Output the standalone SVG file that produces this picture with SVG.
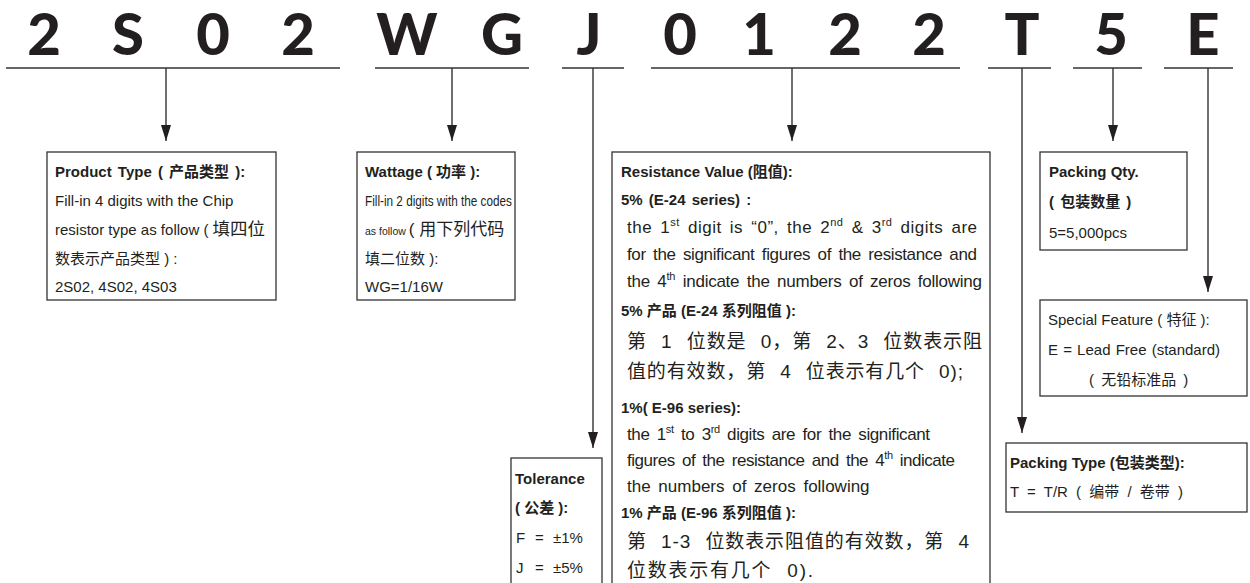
<svg xmlns="http://www.w3.org/2000/svg" width="1250" height="583" viewBox="0 0 1250 583">
<defs>
<marker id="ah" markerUnits="userSpaceOnUse" markerWidth="16" markerHeight="10" refX="16" refY="5" orient="auto" viewBox="0 0 16 10">
<path d="M0,0 L16,5 L0,10 Z" fill="#231f20"/>
</marker>
<style>
.big{font-family:"Lato","Liberation Sans",sans-serif;font-weight:900;font-size:58px;fill:#231f20;text-anchor:middle}
.t{font-family:"Liberation Sans","Noto Sans CJK SC",sans-serif;font-size:15px;fill:#231f20}
.b{font-weight:700}
.cj{font-size:19px;word-spacing:8px}
.en{font-size:17px;word-spacing:3px}
.box{fill:#fff;stroke:#333;stroke-width:1.3}
.ln{stroke:#333;stroke-width:1.6;fill:none}
.ar{stroke:#333;stroke-width:1.4;fill:none;marker-end:url(#ah)}
</style>
</defs>
<rect width="1250" height="583" fill="#fff"/>
<g id="code">
<text class="big" x="44" y="55">2</text>
<text class="big" x="128" y="55">S</text>
<text class="big" x="213" y="55">0</text>
<text class="big" x="298" y="55">2</text>
<text class="big" x="407" y="55">W</text>
<text class="big" x="502" y="55">G</text>
<text class="big" x="589" y="55">J</text>
<text class="big" x="680" y="55">0</text>
<text class="big" x="759" y="55">1</text>
<text class="big" x="845" y="55">2</text>
<text class="big" x="929" y="55">2</text>
<text class="big" x="1022" y="55">T</text>
<text class="big" x="1111" y="55">5</text>
<text class="big" x="1203" y="55">E</text>
</g>
<g id="connectors">
<line class="ln" x1="6" y1="68" x2="340" y2="68"/>
<line class="ln" x1="375" y1="68" x2="529" y2="68"/>
<line class="ln" x1="562" y1="68" x2="624" y2="68"/>
<line class="ln" x1="651" y1="68" x2="960" y2="68"/>
<line class="ln" x1="988" y1="68" x2="1051" y2="68"/>
<line class="ln" x1="1073" y1="68" x2="1142" y2="68"/>
<line class="ln" x1="1164" y1="68" x2="1233" y2="68"/>
<line class="ar" x1="166" y1="68" x2="166" y2="141"/>
<line class="ar" x1="452" y1="68" x2="452" y2="141"/>
<line class="ar" x1="593" y1="68" x2="593" y2="448"/>
<line class="ar" x1="792" y1="68" x2="792" y2="141"/>
<line class="ar" x1="1022" y1="68" x2="1022" y2="433"/>
<line class="ar" x1="1113" y1="68" x2="1113" y2="141"/>
<line class="ar" x1="1208" y1="68" x2="1208" y2="292"/>
</g>
<g id="product-type">
<rect class="box" x="47" y="152" width="229" height="148"/>
<text class="t b" x="55" y="177" font-size="17" word-spacing="2">Product Type ( 产品类型 ):</text>
<text class="t" x="55" y="206" font-size="17">Fill-in 4 digits with the Chip</text>
<text class="t" x="55" y="235" font-size="15.5">resistor type as follow ( <tspan font-size="17.5">填四位</tspan></text>
<text class="t" x="55" y="264" font-size="18.5">数表示产品类型 ) :</text>
<text class="t" x="55" y="292" font-size="16">2S02, 4S02, 4S03</text>
</g>
<g id="wattage">
<rect class="box" x="357" y="152" width="158" height="148"/>
<text class="t b" x="365" y="177">Wattage ( 功率 ):</text>
<text class="t" x="365" y="206" font-size="12" textLength="147" lengthAdjust="spacingAndGlyphs">Fill-in 2 digits with the codes</text>
<text class="t" x="365" y="235"><tspan font-size="10.5">as follow </tspan><tspan font-size="17">( 用下列代码</tspan></text>
<text class="t" x="365" y="264" font-size="17">填二位数 ):</text>
<text class="t" x="365" y="292" font-size="16">WG=1/16W</text>
</g>
<g id="tolerance">
<rect class="box" x="511" y="458" width="91" height="140"/>
<text class="t b" x="515" y="484">Tolerance</text>
<text class="t b" x="515" y="513">( 公差 ):</text>
<text class="t" x="516" y="543" font-size="16">F<tspan x="535">=</tspan><tspan x="553">±1%</tspan></text>
<text class="t" x="516" y="573" font-size="16">J<tspan x="535">=</tspan><tspan x="553">±5%</tspan></text>
</g>
<g id="resistance">
<rect class="box" x="612" y="152" width="378" height="446"/>
<text class="t b" x="621" y="177">Resistance Value (阻值):</text>
<text class="t b" x="621" y="205" font-size="17.5" word-spacing="2">5% (E-24 series) :</text>
<text class="t en" x="627" y="233" textLength="350">the 1<tspan dy="-7" font-size="11">st</tspan><tspan dy="7"> digit is “0”, the 2</tspan><tspan dy="-7" font-size="11">nd</tspan><tspan dy="7"> &amp; 3</tspan><tspan dy="-7" font-size="11">rd</tspan><tspan dy="7"> digits are</tspan></text>
<text class="t en" x="627" y="260" textLength="350">for the significant figures of the resistance and</text>
<text class="t en" x="627" y="287" textLength="355">the 4<tspan dy="-7" font-size="11">th</tspan><tspan dy="7"> indicate the numbers of zeros following</tspan></text>
<text class="t b" x="621" y="316" font-size="15.5">5% 产品 (E-24 系列阻值 ):</text>
<text class="t cj" x="627" y="348" textLength="355">第 1 位数是 0，第 2、3 位数表示阻</text>
<text class="t cj" x="627" y="378" textLength="336">值的有效数，第 4 位表示有几个 0);</text>
<text class="t b" x="621" y="413" font-size="16.5">1%( E-96 series):</text>
<text class="t en" x="627" y="440" textLength="303">the 1<tspan dy="-7" font-size="11">st</tspan><tspan dy="7"> to 3</tspan><tspan dy="-7" font-size="11">rd</tspan><tspan dy="7"> digits are for the significant</tspan></text>
<text class="t en" x="627" y="466" textLength="328">figures of the resistance and the 4<tspan dy="-7" font-size="11">th</tspan><tspan dy="7"> indicate</tspan></text>
<text class="t en" x="627" y="492">the numbers of zeros following</text>
<text class="t b" x="621" y="518" font-size="15.5">1% 产品 (E-96 系列阻值 ):</text>
<text class="t cj" x="627" y="548" textLength="342">第 1-3 位数表示阻值的有效数，第 4</text>
<text class="t cj" x="627" y="577" textLength="186">位数表示有几个 0).</text>
</g>
<g id="packing-qty">
<rect class="box" x="1040" y="152" width="147" height="98"/>
<text class="t b" x="1049" y="177" font-size="16">Packing Qty.</text>
<text class="t b" x="1049" y="207" font-size="19.5" word-spacing="2">( 包装数量 )</text>
<text class="t" x="1049" y="238" font-size="18.5">5=5,000pcs</text>
</g>
<g id="special-feature">
<rect class="box" x="1040" y="300" width="207" height="96"/>
<text class="t" x="1048" y="325" font-size="16">Special Feature ( 特征 ):</text>
<text class="t" x="1048" y="355" font-size="16.5" word-spacing="1">E = Lead Free (standard)</text>
<text class="t" x="1089" y="385" font-size="19" word-spacing="3">( 无铅标准品 )</text>
</g>
<g id="packing-type">
<rect class="box" x="1006" y="443" width="241" height="69"/>
<text class="t b" x="1010" y="468" font-size="18">Packing Type (包装类型):</text>
<text class="t" x="1010" y="497" font-size="18.5" word-spacing="4">T = T/R ( 编带 / 卷带 )</text>
</g>
</svg>
